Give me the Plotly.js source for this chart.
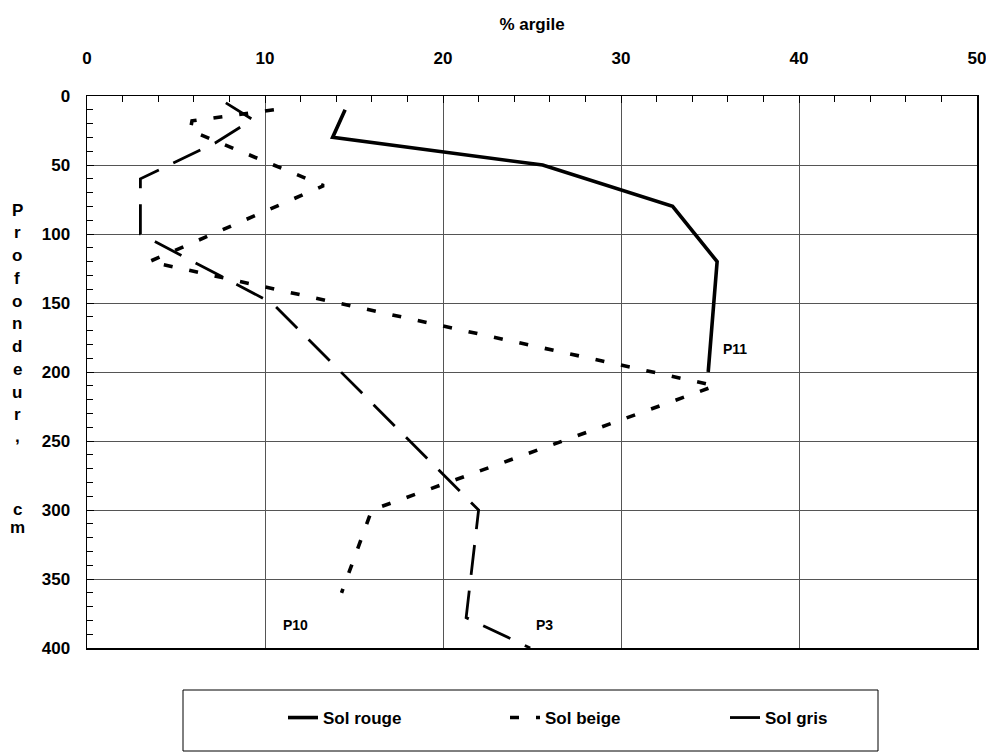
<!DOCTYPE html>
<html>
<head>
<meta charset="utf-8">
<script src="https://cdn.plot.ly/plotly-3.0.1.min.js"></script>
<style>html,body{margin:0;padding:0;background:#fff;}#chart{width:986px;height:753px;}</style>
</head>
<body>
<div id="chart"></div>
<script>
// Data (x = % argile, y = profondeur in cm)
const depthRouge = [10, 30, 50, 80, 120, 200];
const argileRouge = [14.5, 13.8, 25.6, 32.9, 35.4, 34.9];

const depthBeige = [10, 18, 25, 65, 120, 210, 300, 360];
const argileBeige = [10.5, 5.9, 5.8, 13.3, 3.5, 35.3, 16.0, 14.3];

const depthGris = [5, 17, 34, 60, 100, 150, 300, 378, 400];
const argileGris = [7.8, 9.3, 7.2, 3.0, 3.0, 10.4, 22.0, 21.3, 24.9];

const seriesNames = ["Sol rouge", "Sol beige", "Sol gris"];
const profileLabels = ["P11", "P10", "P3"];
const profileLabelX = [36.4, 11.7, 25.7];
const profileLabelY = [183, 383, 383];

const xTickVals = [0, 10, 20, 30, 40, 50];
const yTickVals = [0, 50, 100, 150, 200, 250, 300, 350, 400];
const xTitle = "% argile";
const yTitleText = "Profondeur, cm";

// Layout geometry
const W = 986, H = 753;
const M = {l: 87, r: 9, t: 96, b: 105};
const plotW = W - M.l - M.r;
const plotH = H - M.t - M.b;
const px2x = p => (p - M.l) / plotW;
const px2y = p => 1 - (p - M.t) / plotH;
const FONT = "Liberation Sans, Arial, sans-serif";

const traces = [
  {x: argileRouge, y: depthRouge, name: seriesNames[0], mode: "lines", legend: "legend",
   line: {color: "#000", width: 3.6}},
  {x: argileBeige, y: depthBeige, name: seriesNames[1], mode: "lines", legend: "legend2",
   line: {color: "#000", width: 3.6, dash: "9px,17px"}},
  {x: argileGris, y: depthGris, name: seriesNames[2], mode: "lines", legend: "legend3",
   line: {color: "#000", width: 2.8, dash: "30px,16px"}}
];

// stacked letters for the vertical y title (pixel rows from the reference)
const letterRows = [210, 232, 256, 278, 301, 323, 346, 369, 392, 414, 436, null, 509, 527];
const letters = yTitleText.split("");
const annotations = [];
letters.forEach((ch, i) => {
  if (ch === " " || letterRows[i] == null) return;
  annotations.push({
    xref: "paper", yref: "paper",
    x: px2x(17), y: px2y(letterRows[i]),
    xanchor: "center", yanchor: "middle", showarrow: false,
    text: ch, font: {family: FONT, size: 17, color: "#000", weight: "bold"}
  });
});
profileLabels.forEach((t, i) => {
  annotations.push({
    x: profileLabelX[i], y: profileLabelY[i], xref: "x", yref: "y",
    showarrow: false, text: t,
    font: {family: FONT, size: 14, color: "#000", weight: "bold"}
  });
});

const legendBase = (leftPx) => ({
  orientation: "h", x: px2x(leftPx), xanchor: "left",
  y: px2y(700), yanchor: "top",
  borderwidth: 0, bgcolor: "rgba(0,0,0,0)",
  font: {family: FONT, size: 17, color: "#000", weight: "bold"}
});

const layout = {
  width: W, height: H,
  margin: M,
  paper_bgcolor: "#fff", plot_bgcolor: "#fff",
  showlegend: true,
  font: {family: FONT, color: "#000"},
  xaxis: {
    side: "top", range: [0, 50], tickvals: xTickVals,
    ticks: "inside", ticklen: 7, tickwidth: 1, tickcolor: "#000",
    minor: {dtick: 2, ticks: "inside", ticklen: 6, tickcolor: "#000", showgrid: false},
    showgrid: true, gridcolor: "#555", gridwidth: 1,
    showline: true, linecolor: "#000", linewidth: 1.5, mirror: true,
    zeroline: false, ticklabelstandoff: 24, ticklabeloverflow: "allow",
    tickfont: {family: FONT, size: 17, color: "#000", weight: "bold"},
    title: {text: xTitle, standoff: 14, font: {family: FONT, size: 17, color: "#000", weight: "bold"}}
  },
  yaxis: {
    range: [400, 0], tickvals: yTickVals,
    ticks: "inside", ticklen: 7, tickwidth: 1, tickcolor: "#000",
    minor: {dtick: 10, ticks: "inside", ticklen: 6, tickcolor: "#000", showgrid: false},
    showgrid: true, gridcolor: "#555", gridwidth: 1,
    showline: true, linecolor: "#000", linewidth: 1.5, mirror: true,
    zeroline: false, ticklabelstandoff: 12,
    tickfont: {family: FONT, size: 17, color: "#000", weight: "bold"}
  },
  legend: legendBase(283),
  legend2: legendBase(505),
  legend3: legendBase(725),
  shapes: [{
    type: "rect", xref: "paper", yref: "paper",
    x0: px2x(183), x1: px2x(878), y0: px2y(690), y1: px2y(751),
    line: {color: "#000", width: 1}, fillcolor: "rgba(0,0,0,0)", layer: "below"
  }],
  annotations: annotations
};

Plotly.newPlot("chart", traces, layout, {displayModeBar: false, staticPlot: true});
</script>
</body>
</html>
